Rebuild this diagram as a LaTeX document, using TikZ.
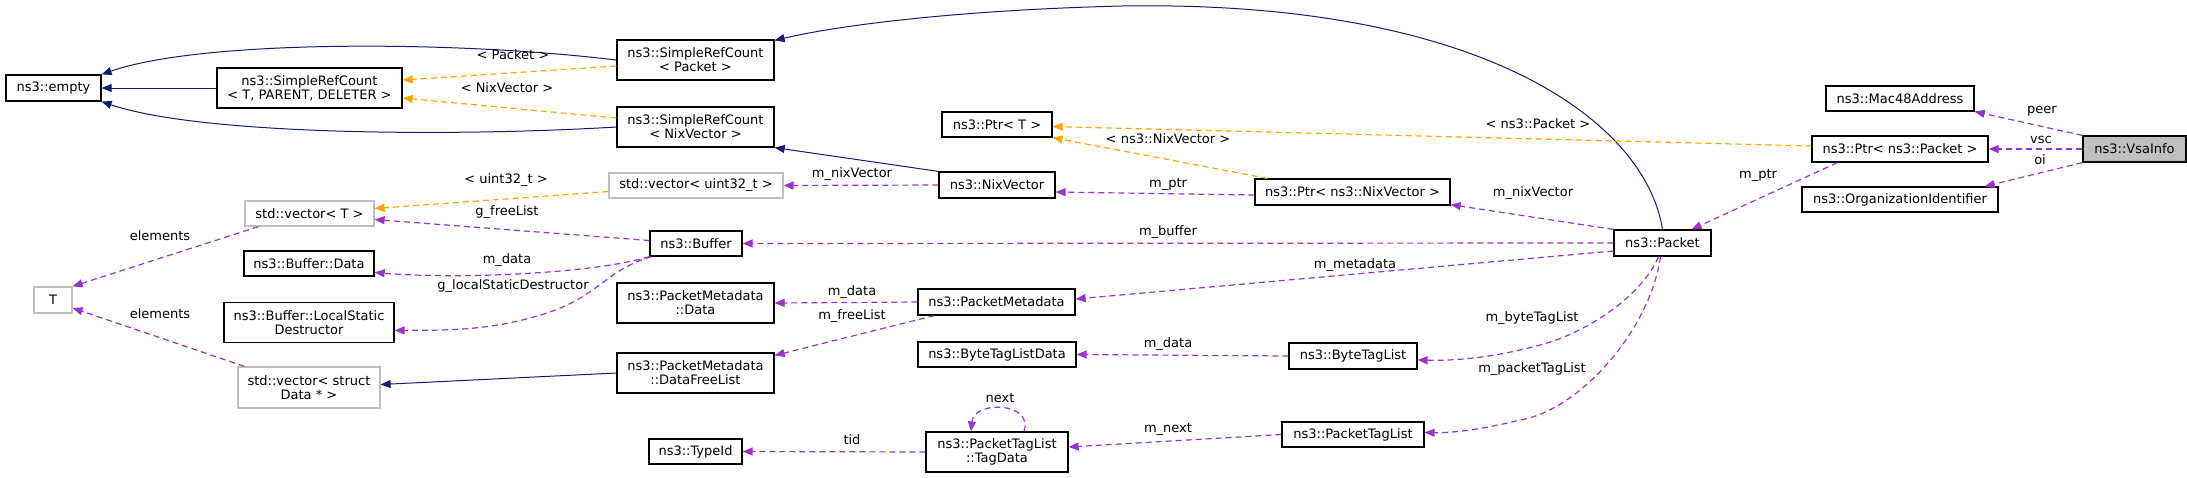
\documentclass[tikz,border=0pt]{standalone}
\usepackage{fontspec}
\setmainfont{DejaVu Sans}
\usetikzlibrary{calc,arrows.meta}
\definecolor{navy}{RGB}{25,25,112}
\definecolor{orng}{RGB}{255,165,0}
\definecolor{purp}{RGB}{154,50,205}
\definecolor{gbord}{RGB}{191,191,191}
\newcommand\bx[7]{\node[box,#7,minimum width=#4*0.5pt,minimum height=#5*0.5pt] (#1) at (#2,#3) {#6};}
\newcommand\lb[4]{\node[lbl] (#1) at (#2,#3) {#4};}
\begin{document}
\begin{tikzpicture}[x=0.5pt,y=-0.5pt,
  box/.style={draw=black,line width=0.6pt,fill=white,inner sep=0pt,align=center,font=\fontsize{6.5}{7}\selectfont},
  gry/.style={draw=gbord},
  lbl/.style={inner sep=0pt,font=\fontsize{6.5}{7}\selectfont},
  tip/.style={-{Triangle[length=5pt,width=4pt]}},
  inh/.style={tip,draw=navy,line width=0.5pt},
  tpl/.style={tip,draw=orng,line width=0.6pt,dash pattern=on 3pt off 2pt},
  use/.style={tip,draw=purp,line width=0.6pt,dash pattern=on 3pt off 2pt}]
\useasboundingbox (0,0) rectangle (2187,477);
\bx{empty}{53.5}{88}{95}{26}{ns3::empty}{}
\bx{srcT}{309.5}{88}{185}{40}{ns3::SimpleRefCount\\< T, PARENT, DELETER >}{}
\bx{srcP}{695.5}{60}{157}{40}{ns3::SimpleRefCount\\< Packet >}{}
\bx{srcN}{695.5}{127}{157}{40}{ns3::SimpleRefCount\\< NixVector >}{}
\bx{vecU}{696}{185.5}{174}{25}{std::vector< uint32\_t >}{gry}
\bx{vecT}{309.5}{213.5}{129}{25}{std::vector< T >}{gry}
\bx{buffer}{696}{243.5}{92}{25}{ns3::Buffer}{}
\bx{bdata}{309}{263.5}{130}{25}{ns3::Buffer::Data}{}
\bx{blsd}{309}{322.5}{170}{40}{ns3::Buffer::LocalStatic\\Destructor}{}
\bx{T}{53}{300}{38}{26}{T}{gry}
\bx{pmdata}{695.5}{303}{157}{40}{ns3::PacketMetadata\\::Data}{}
\bx{vecS}{309}{387.5}{142}{41}{std::vector< struct\\Data * >}{gry}
\bx{pmfree}{695.5}{373}{157}{40}{ns3::PacketMetadata\\::DataFreeList}{}
\bx{typeid}{695.5}{451.5}{93}{25}{ns3::TypeId}{}
\bx{ptrT}{997}{124.5}{110}{25}{ns3::Ptr< T >}{}
\bx{nix}{997}{185}{116}{26}{ns3::NixVector}{}
\bx{ptrN}{1352.5}{192}{195}{26}{ns3::Ptr< ns3::NixVector >}{}
\bx{pm}{996.5}{302}{157}{26}{ns3::PacketMetadata}{}
\bx{btld}{997}{354.5}{158}{25}{ns3::ByteTagListData}{}
\bx{btl}{1353}{356}{128}{26}{ns3::ByteTagList}{}
\bx{tagdata}{997}{452}{142}{40}{ns3::PacketTagList\\::TagData}{}
\bx{ptl}{1353}{434.5}{142}{25}{ns3::PacketTagList}{}
\bx{mac}{1900}{98.5}{148}{25}{ns3::Mac48Address}{}
\bx{ptrP}{1900}{149}{176}{26}{ns3::Ptr< ns3::Packet >}{}
\bx{vsa}{2134.5}{149}{103}{26}{ns3::VsaInfo}{fill=gbord}
\bx{oi}{1900}{199.5}{196}{25}{ns3::OrganizationIdentifier}{}
\bx{packet}{1662.5}{243}{97}{26}{ns3::Packet}{}
% inheritance
\draw[inh] (srcP.west) .. controls (450,40) and (200,40) .. (empty.north east);
\draw[inh] (srcT.west) -- (empty.east);
\draw[inh] (srcN.west) .. controls (450,137) and (200,135) .. (empty.south east);
\draw[inh] (packet.north) .. controls (1645,120) and (1480,0) .. (1122,6) .. controls (960,10) and (840,25) .. ($(srcP.north east)+(0,1)$);
\draw[inh] (nix.north west) -- (srcN.south east);
\draw[inh] (pmfree.west) -- ($(vecS.east)+(0,-3)$);
% templates
\draw[tpl] ($(srcP.west)+(0,6)$) -- ($(srcT.east)+(0,-8)$);
\draw[tpl] ($(srcN.west)+(0,-9)$) -- ($(srcT.east)+(0,10)$);
\draw[tpl] ($(ptrP.west)+(0,-3)$) -- ($(ptrT.east)+(0,2)$);
\draw[tpl] ($(ptrN.north west)+(13,0)$) -- (ptrT.south east);
\draw[tpl] ($(vecU.west)+(0,6)$) -- ($(vecT.east)+(0,-5)$);
% usage
\draw[use] (nix.west) -- (vecU.east);
\draw[use] ($(ptrN.west)+(0,3)$) -- ($(nix.east)+(0,7)$);
\draw[use] (packet.north west) -- ($(ptrN.south east)+(0,-1)$);
\draw[use] ($(ptrP.south west)+(26,0)$) -- ($(packet.north east)+(-20,0)$);
\draw[use] (vsa.north west) -- (mac.south east);
\draw[use] (vsa.west) -- (ptrP.east);
\draw[use] (vsa.south west) -- ($(oi.north east)+(-14,0)$);
\draw[use] (packet.west) -- (buffer.east);
\draw[use] ($(buffer.west)+(0,-3)$) -- ($(vecT.east)+(0,6)$);
\draw[use] (buffer.south west) .. controls (600,272) and (470,280) .. ($(bdata.east)+(0,9)$);
\draw[use] ($(buffer.south west)+(2,0)$) .. controls (600,272) and (600,300) .. (530,318) .. controls (480,332) and (430,330) .. ($(blsd.east)+(0,8)$);
\draw[use] ($(vecT.south west)+(14,0)$) -- (T.north east);
\draw[use] ($(vecS.north west)+(7,0)$) -- ($(T.east)+(0,8)$);
\draw[use] ($(packet.west)+(0,8)$) -- ($(pm.east)+(0,-3)$);
\draw[use] (pm.west) -- (pmdata.east);
\draw[use] ($(pm.south west)+(17,0)$) -- ($(pmfree.north east)+(0,3)$);
\draw[use] (btl.west) -- (btld.east);
\draw[use] ($(packet.south)+(-4,0)$) .. controls (1640,300) and (1580,335) .. (1540,345) .. controls (1500,356) and (1460,361) .. ($(btl.east)+(0,4)$);
\draw[use] ($(packet.south)+(-2,0)$) .. controls (1650,330) and (1580,410) .. (1520,420) .. controls (1480,430) and (1450,433) .. ($(ptl.east)+(0,-2)$);
\draw[use] (ptl.west) -- ($(tagdata.east)+(0,-5)$);
\draw[use] (tagdata.west) -- (typeid.east);
\draw[use] ($(tagdata.north)+(27,0)$) .. controls (1034,402) and (974,400) .. ($(tagdata.north)+(-26,0)$);
% labels
\lb{l1}{513}{55}{< Packet >}
\lb{l2}{507}{88}{< NixVector >}
\lb{l3}{506}{180}{< uint32\_t >}
\lb{l4}{507}{212}{g\_freeList}
\lb{l5}{160}{236}{elements}
\lb{l6}{160}{314}{elements}
\lb{l7}{507}{260}{m\_data}
\lb{l8}{513}{286}{g\_localStaticDestructor}
\lb{l9}{852}{174}{m\_nixVector}
\lb{l10}{1168}{139}{< ns3::NixVector >}
\lb{l11}{1538}{124}{< ns3::Packet >}
\lb{l12}{1168}{184}{m\_ptr}
\lb{l13}{1533}{193}{m\_nixVector}
\lb{l14}{1758}{175}{m\_ptr}
\lb{l15}{2042}{111}{peer}
\lb{l16}{2041}{140}{vsc}
\lb{l17}{2040}{160}{oi}
\lb{l18}{1168}{232}{m\_buffer}
\lb{l19}{1355}{265}{m\_metadata}
\lb{l20}{852}{292}{m\_data}
\lb{l21}{852}{316}{m\_freeList}
\lb{l22}{1168}{344}{m\_data}
\lb{l23}{1532}{318}{m\_byteTagList}
\lb{l24}{1532}{369}{m\_packetTagList}
\lb{l25}{1000}{398}{next}
\lb{l26}{1168}{429}{m\_next}
\lb{l27}{852}{440}{tid}
\end{tikzpicture}
\end{document}
